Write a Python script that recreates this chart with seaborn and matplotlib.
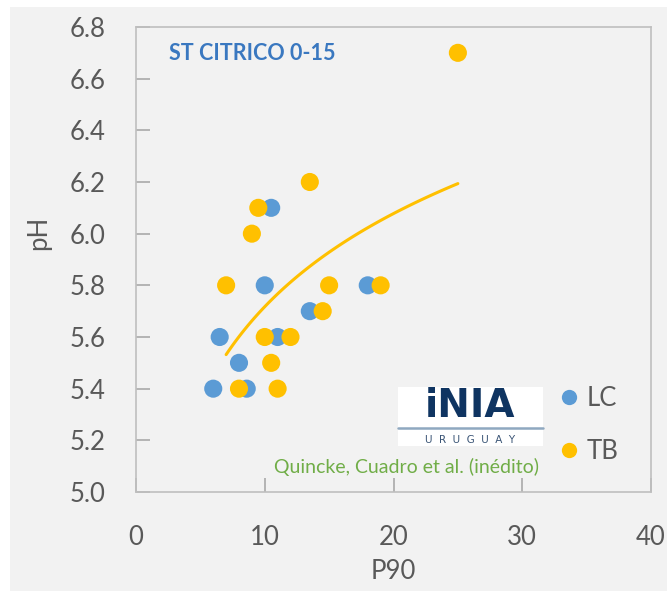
import numpy as np
import pandas as pd
import seaborn as sns
import matplotlib.pyplot as plt
from matplotlib.patches import Rectangle
from matplotlib.lines import Line2D

# values
lc_p90 = [6.0, 8.6, 8.0, 6.5, 11.0, 10.0, 10.5, 13.5, 18.0]
lc_ph = [5.4, 5.4, 5.5, 5.6, 5.6, 5.8, 6.1, 5.7, 5.8]
tb_p90 = [8.0, 11.0, 10.5, 10.0, 12.0, 7.0, 15.0, 19.0, 14.5, 9.0, 9.5, 13.5, 25.0]
tb_ph = [5.4, 5.4, 5.5, 5.6, 5.6, 5.8, 5.8, 5.8, 5.7, 6.0, 6.1, 6.2, 6.7]
series = ["LC", "TB"]
# log trendline on TB: pH = a + b*ln(P90)
trend_b = 0.52
trend_a = 4.52
x_ticks = [0, 10, 20, 30, 40]
y_ticks = [5.0, 5.2, 5.4, 5.6, 5.8, 6.0, 6.2, 6.4, 6.6, 6.8]

blue = "#5b9bd5"
gold = "#ffc000"
grey_txt = "#595959"
bg = "#f2f2f2"

df = pd.concat([
    pd.DataFrame({"P90": lc_p90, "pH": lc_ph, "serie": "LC"}),
    pd.DataFrame({"P90": tb_p90, "pH": tb_ph, "serie": "TB"}),
], ignore_index=True)

sns.set_theme(style="white")
plt.rcParams["font.family"] = ["Lato", "DejaVu Sans"]
plt.rcParams["xtick.bottom"] = True
plt.rcParams["ytick.left"] = True

fig = plt.figure(figsize=(6.69, 5.91), dpi=100, facecolor="white")
fig.patches.append(Rectangle((10 / 669, 0), 657 / 669, 584 / 591, transform=fig.transFigure,
                             facecolor=bg, edgecolor="none", zorder=-10))
ax = fig.add_axes([136 / 669, 99 / 591, 515 / 669, 465 / 591])
ax.set_facecolor(bg)

sns.scatterplot(data=df, x="P90", y="pH", hue="serie", hue_order=series,
                palette=[blue, gold], s=170, edgecolor="none", legend=False, ax=ax, zorder=3)

tx = np.linspace(min(tb_p90), max(tb_p90), 100)
sns.lineplot(x=tx, y=trend_a + trend_b * np.log(tx), color=gold, lw=2.2, ax=ax, zorder=2)

ax.set_xlim(0, 40)
ax.set_ylim(5.0, 6.8)
ax.set_xticks(x_ticks)
ax.set_yticks(y_ticks)
ax.set_yticklabels([f"{v:.1f}" for v in y_ticks])
ax.tick_params(axis="both", direction="in", length=10, width=1.2, color="#a9a9a9",
               labelsize=18.5, labelcolor=grey_txt, left=True, bottom=True)
ax.tick_params(axis="y", pad=22)
ax.tick_params(axis="x", pad=24)
for sp in ax.spines.values():
    sp.set_color("#bfbfbf")
    sp.set_linewidth(1.2)

ax.set_xlabel("P90", fontsize=18.5, color=grey_txt, va="center")
ax.set_ylabel("pH", fontsize=18.5, color=grey_txt, va="center")
ax.xaxis.set_label_coords(0.499, -0.172)
ax.yaxis.set_label_coords(-0.19, 0.557)

ax.text(33 / 515, 1 - 26 / 465, "ST CITRICO 0-15", transform=ax.transAxes, fontsize=15.5,
        fontweight="bold", color="#3a78c0", va="center", ha="left")

# logo block
fig.patches.append(Rectangle((398 / 669, 1 - 446 / 591), 145 / 669, 59 / 591, transform=fig.transFigure,
                             facecolor="white", edgecolor="none", zorder=5))
fig.lines.append(Line2D([398 / 669, 543 / 669], [1 - 428 / 591] * 2, transform=fig.transFigure,
                        color="#8fa8c0", lw=1.8, zorder=6))
fig.text(470 / 669, 1 - 406 / 591, "iNIA", fontsize=28, fontweight="heavy", color="#0f3461",
         family="DejaVu Sans", ha="center", va="center", zorder=7)
fig.text(470 / 669, 1 - 440 / 591, "U  R  U  G  U  A  Y", fontsize=7.5, color="#3b5576",
         family="DejaVu Sans", ha="center", va="center", zorder=7)

fig.text(407 / 669, 1 - 467 / 591, "Quincke, Cuadro et al. (inédito)", fontsize=14,
         color="#70ad47", ha="center", va="center")

handles = [Line2D([], [], marker="o", ls="none", markersize=11, color=c, markeredgecolor="none")
           for c in [blue, gold]]
fig.legend(handles, series, loc="center left", bbox_to_anchor=(543 / 669, 1 - 425 / 591),
           frameon=False, fontsize=18.5, labelcolor=grey_txt, labelspacing=1.1,
           handletextpad=0.1, handlelength=1.2, borderaxespad=0)

fig.savefig("out.png", dpi=100, facecolor=fig.get_facecolor())
